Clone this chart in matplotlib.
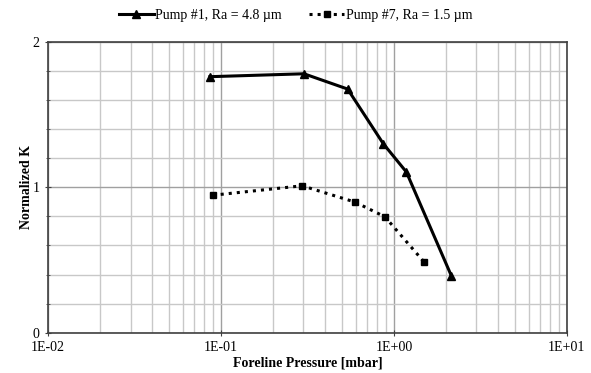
import numpy as np
import matplotlib.pyplot as plt
from matplotlib.ticker import LogLocator, FixedLocator, MultipleLocator

plt.rcParams['font.family'] = ['Liberation Serif', 'DejaVu Serif']

# Pump #1, Ra = 4.8 um
p1 = [0.0863, 0.302, 0.54, 0.867, 1.18, 2.15]
k1 = [1.76, 1.78, 1.675, 1.30, 1.105, 0.39]
# Pump #7, Ra = 1.5 um
p7 = [0.0895, 0.295, 0.596, 0.887, 1.49]
k7 = [0.945, 1.01, 0.898, 0.797, 0.488]

xticks = [1e-2, 1e-1, 1e0, 1e1]
xlabels = ['1E-02', '1E-01', '1E+00', '1E+01']

fig = plt.figure(figsize=(5.91, 3.73), dpi=100)
ax = fig.add_axes([0.0812, 0.108, 0.878, 0.780])

ax.plot(p1, k1, '-', color='black', lw=2.2, marker='^', ms=6,
        label='Pump #1, Ra = 4.8 µm')
ax.plot(p7, k7, ':', color='black', lw=2.2, marker='s', ms=4.5,
        label='Pump #7, Ra = 1.5 µm')

ax.set_xscale('log')
ax.set_xlim(1e-2, 1e1)
ax.set_ylim(0, 2)
ax.xaxis.set_major_locator(FixedLocator(xticks))
ax.set_xticklabels(xlabels)
ax.xaxis.set_minor_locator(LogLocator(base=10, subs=np.arange(2, 10)))
ax.xaxis.set_minor_formatter(plt.NullFormatter())
ax.set_yticks([0, 1, 2])
ax.yaxis.set_minor_locator(MultipleLocator(0.2))

ax.grid(True, which='major', color='#a0a0a0', lw=1.0)
ax.grid(True, which='minor', color='#c8c8c8', lw=1.0)
ax.set_axisbelow(True)

for s in ax.spines.values():
    s.set_color('#404040')
    s.set_linewidth(1.2)
ax.tick_params(which='major', direction='inout', length=5, labelsize=10, colors='#404040', labelcolor='black')
ax.tick_params(which='minor', direction='inout', length=3, colors='#404040')
ax.tick_params(axis='x', which='minor', length=0)

ax.set_xlabel('Foreline Pressure [mbar]', fontsize=10, fontweight='bold', labelpad=2)
ax.set_ylabel('Normalized K', fontsize=10, fontweight='bold', labelpad=0)

fig.legend(loc='center', bbox_to_anchor=(0.50, 0.958), ncol=2, frameon=False,
           fontsize=10, handlelength=2.5, columnspacing=2.0, handletextpad=0.1)

fig.savefig('out.png', dpi=100)
